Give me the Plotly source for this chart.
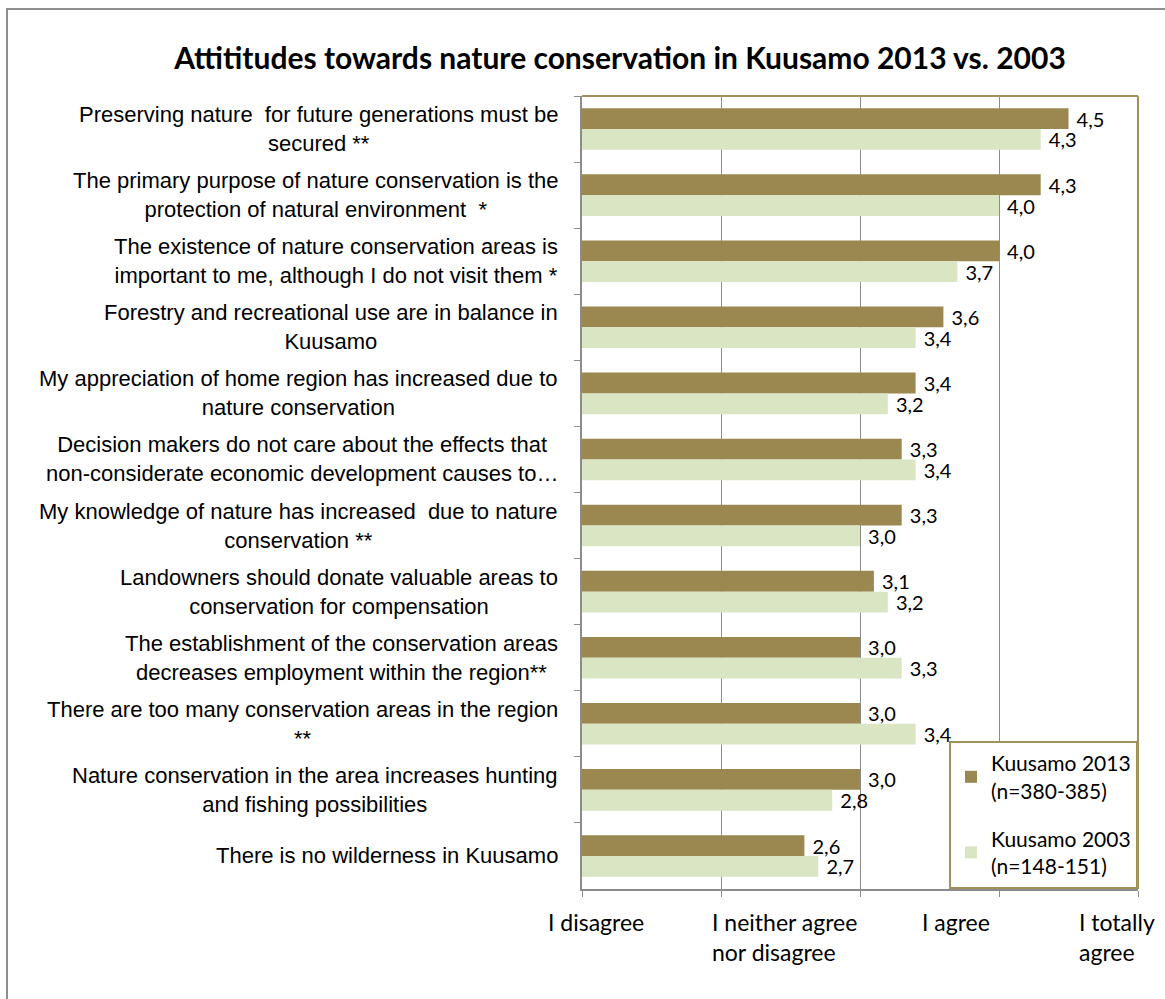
import plotly.graph_objects as go

# Survey statements (top to bottom) and mean scores on a 1–5 scale
statements = [
    "Preserving nature  for future generations must be<br>secured **",
    "The primary purpose of nature conservation is the<br>protection of natural environment  *",
    "The existence of nature conservation areas is<br>important to me, although I do not visit them *",
    "Forestry and recreational use are in balance in<br>Kuusamo",
    "My appreciation of home region has increased due to<br>nature conservation",
    "Decision makers do not care about the effects that<br>non-considerate economic development causes to…",
    "My knowledge of nature has increased  due to nature<br>conservation **",
    "Landowners should donate valuable areas to<br>conservation for compensation",
    "The establishment of the conservation areas<br>decreases employment within the region**",
    "There are too many conservation areas in the region<br>**",
    "Nature conservation in the area increases hunting<br>and fishing possibilities",
    "There is no wilderness in Kuusamo",
]
kuusamo_2013 = [4.5, 4.3, 4.0, 3.6, 3.4, 3.3, 3.3, 3.1, 3.0, 3.0, 3.0, 2.6]
kuusamo_2003 = [4.3, 4.0, 3.7, 3.4, 3.2, 3.4, 3.0, 3.2, 3.3, 3.4, 2.8, 2.7]
series_names = ["Kuusamo 2013<br>(n=380-385)", "Kuusamo 2003<br>(n=148-151)"]
scale_labels = ["I disagree", "I neither agree<br>nor disagree", "I agree", "I totally<br>agree"]

DARK = "#9a8850"
LIGHT = "#d9e5c3"
OLIVE_LINE = "#a09258"
GRID = "#8c8c8c"
LABEL_FONT = "Liberation Sans, Arial, sans-serif"
NUM_FONT = "Lato, Open Sans, sans-serif"

W, H = 1165, 999
L, R, T, B = 582, 27, 96, 110
PW, PH = W - L - R, H - T - B


def px_to_paper_x(px):
    return (px - L) / PW


def px_to_paper_y(py):
    return (H - B - py) / PH


fig = go.Figure()
for i, (name, vals, col) in enumerate([(series_names[0], kuusamo_2013, DARK),
                                       (series_names[1], kuusamo_2003, LIGHT)]):
    fig.add_trace(go.Bar(
        y=statements, x=[v - 1 for v in vals], base=1, orientation="h",
        name=name, legendgroup=f"g{i}",
        marker=dict(color=col, line=dict(width=0)),
        text=["\u00a0" + f"{v:.1f}".replace(".", ",") for v in vals],
        textposition="outside", constraintext="none", cliponaxis=False,
        textfont=dict(family=NUM_FONT, size=20, color="#000000"),
    ))

annotations = []
# statement labels, centred lines, right-aligned block
for s in statements:
    annotations.append(dict(
        x=px_to_paper_x(560), xref="paper", y=s, yref="y",
        xanchor="right", yanchor="middle", align="center",
        text=s, showarrow=False,
        font=dict(family=LABEL_FONT, size=22, color="#000000"),
    ))

# response-scale labels under the axis
scale_left_px = [546, 710, 920, 1077]
for lab, px in zip(scale_labels, scale_left_px):
    annotations.append(dict(
        x=px_to_paper_x(px), xref="paper", y=px_to_paper_y(906), yref="paper",
        xanchor="left", yanchor="top", align="left", text=lab, showarrow=False,
        font=dict(family=NUM_FONT, size=23, color="#000000"),
    ))

shapes = [
    # outer chart frame
    dict(type="rect", xref="paper", yref="paper",
         x0=px_to_paper_x(7), x1=px_to_paper_x(1175),
         y0=px_to_paper_y(1010), y1=px_to_paper_y(9),
         line=dict(color="#8f8f8f", width=2), layer="below"),
    # plot area top and right borders
    dict(type="line", xref="paper", yref="paper", x0=0, x1=1, y0=1, y1=1,
         line=dict(color=OLIVE_LINE, width=2)),
    dict(type="line", xref="paper", yref="paper", x0=1, x1=1, y0=0, y1=1,
         line=dict(color=OLIVE_LINE, width=2)),
]

fig.update_layout(
    width=W, height=H,
    margin=dict(l=L, r=R, t=T, b=B),
    paper_bgcolor="white", plot_bgcolor="white",
    barmode="group", bargap=0.37, bargroupgap=0.0,
    title=dict(text="<b>Attititudes towards nature conservation in Kuusamo 2013 vs. 2003</b>",
               x=620 / W, xanchor="center",
               y=1 - 58 / H, yanchor="middle",
               font=dict(family="Lato, sans-serif", size=30, color="#000000")),
    xaxis=dict(range=[1, 5], tickvals=[1, 2, 3, 4, 5], showticklabels=False,
               showgrid=True, gridcolor=GRID, gridwidth=1,
               showline=True, linecolor=GRID, linewidth=2,
               ticks="outside", ticklen=6, tickcolor=GRID, zeroline=False),
    yaxis=dict(autorange="reversed", showticklabels=False,
               showline=True, linecolor=GRID, linewidth=2,
               ticks="outside", ticklen=6, tickcolor=GRID, tickson="boundaries",
               showgrid=False),
    legend=dict(x=1, xanchor="right", y=0, yanchor="bottom",
                bgcolor="white", bordercolor=OLIVE_LINE, borderwidth=2,
                font=dict(family=NUM_FONT, size=21, color="#000000"),
                traceorder="grouped", itemwidth=30, tracegroupgap=18),
    annotations=annotations, shapes=shapes, showlegend=True,
)

fig.write_html("out.html")
